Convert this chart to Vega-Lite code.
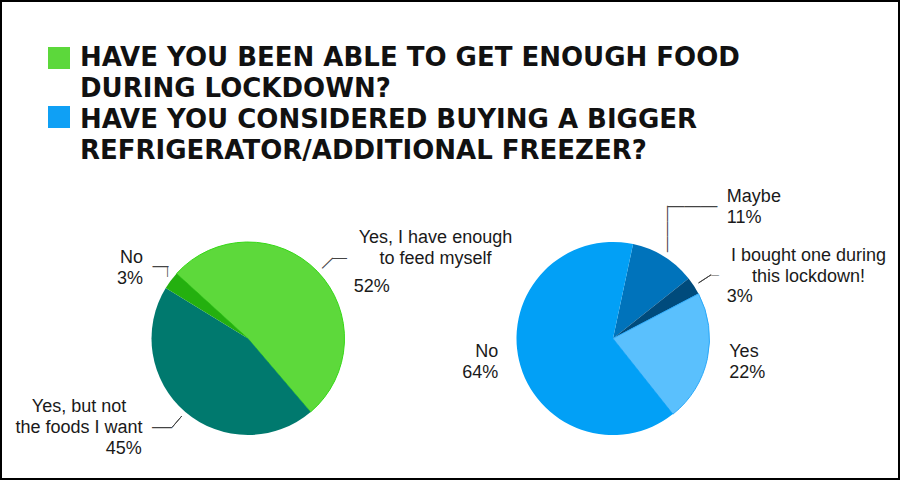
{
  "$schema": "https://vega.github.io/schema/vega-lite/v6.json",
  "width": 900,
  "height": 480,
  "padding": 0,
  "autosize": {"type": "none"},
  "background": "white",
  "config": {"view": {"stroke": "#000000", "strokeWidth": 4, "fill": "white"}},
  "title": {
    "text": ["HAVE YOU BEEN ABLE TO GET ENOUGH FOOD", "DURING LOCKDOWN?", "HAVE YOU CONSIDERED BUYING A BIGGER", "REFRIGERATOR/ADDITIONAL FREEZER?"],
    "orient": "top", "anchor": "start", "frame": "group", "offset": 0,
    "baseline": "alphabetic", "dx": 80, "dy": 185,
    "font": "DejaVu Sans", "fontWeight": "bold", "fontSize": 26, "lineHeight": 31, "color": "#111111", "limit": 2000
  },
  "data": {
    "values": [
      {"question": "HAVE YOU BEEN ABLE TO GET ENOUGH FOOD\nDURING LOCKDOWN?", "answer": "Yes, I have enough to feed myself", "name": "Yes, I have enough\nto feed myself", "pct": "52%", "value": 52, "order": 1},
      {"question": "HAVE YOU BEEN ABLE TO GET ENOUGH FOOD\nDURING LOCKDOWN?", "answer": "Yes, but not the foods I want", "name": "Yes, but not\nthe foods I want", "pct": "45%", "value": 45, "order": 2},
      {"question": "HAVE YOU BEEN ABLE TO GET ENOUGH FOOD\nDURING LOCKDOWN?", "answer": "No", "name": "No", "pct": "3%", "value": 3, "order": 3},
      {"question": "HAVE YOU CONSIDERED BUYING A BIGGER\nREFRIGERATOR/ADDITIONAL FREEZER?", "answer": "Maybe", "name": "Maybe", "pct": "11%", "value": 11, "order": 1},
      {"question": "HAVE YOU CONSIDERED BUYING A BIGGER\nREFRIGERATOR/ADDITIONAL FREEZER?", "answer": "I bought one during this lockdown!", "name": "I bought one during\nthis lockdown!", "pct": "3%", "value": 3, "order": 2},
      {"question": "HAVE YOU CONSIDERED BUYING A BIGGER\nREFRIGERATOR/ADDITIONAL FREEZER?", "answer": "Yes", "name": "Yes", "pct": "22%", "value": 22, "order": 3},
      {"question": "HAVE YOU CONSIDERED BUYING A BIGGER\nREFRIGERATOR/ADDITIONAL FREEZER?", "answer": "No", "name": "No", "pct": "64%", "value": 64, "order": 4}
    ]
  },
  "resolve": {"scale": {"theta": "independent", "fill": "independent"}},
  "layer": [
    {
      "mark": {"type": "square", "opacity": 0},
      "encoding": {
        "fill": {
          "field": "question", "type": "nominal",
          "scale": {"domain": ["HAVE YOU BEEN ABLE TO GET ENOUGH FOOD\nDURING LOCKDOWN?", "HAVE YOU CONSIDERED BUYING A BIGGER\nREFRIGERATOR/ADDITIONAL FREEZER?"], "range": ["#5cd83b", "#0fa0f5"]},
          "legend": {
            "orient": "none", "legendX": 48, "legendY": 47, "title": null, "padding": 0,
            "symbolType": "square", "symbolSize": 484, "symbolOpacity": 1, "symbolStrokeWidth": 0,
            "labelExpr": "''", "labelFontSize": 1, "labelOffset": 0, "rowPadding": 37
          }
        }
      }
    },
    {
      "transform": [{"filter": {"field": "question", "equal": "HAVE YOU BEEN ABLE TO GET ENOUGH FOOD\nDURING LOCKDOWN?"}}],
      "encoding": {
        "x": {"field": "question", "type": "nominal", "axis": null, "scale": {"type": "point", "padding": 0, "domain": ["HAVE YOU BEEN ABLE TO GET ENOUGH FOOD\nDURING LOCKDOWN?", "HAVE YOU CONSIDERED BUYING A BIGGER\nREFRIGERATOR/ADDITIONAL FREEZER?"], "range": [248, 613]}},
        "y": {"field": "question", "type": "nominal", "axis": null, "scale": {"type": "point", "padding": 0, "domain": ["HAVE YOU BEEN ABLE TO GET ENOUGH FOOD\nDURING LOCKDOWN?", "HAVE YOU CONSIDERED BUYING A BIGGER\nREFRIGERATOR/ADDITIONAL FREEZER?"], "range": [338.5, 338.5]}},
        "theta": {"field": "value", "type": "quantitative", "stack": true, "scale": {"domain": [0, 100], "range": [-0.8325, 5.4507]}},
        "order": {"field": "order", "type": "quantitative"},
        "detail": {"field": "answer", "type": "nominal"}
      },
      "layer": [
        {
          "mark": {"type": "arc", "radius": 96.5, "stroke": "#36d916", "strokeWidth": 1},
          "encoding": {
            "fill": {"field": "answer", "type": "nominal", "legend": null, "scale": {"domain": ["Yes, I have enough to feed myself", "Yes, but not the foods I want", "No"], "range": ["#5dd93b", "#00796e", "#24b00f"]}},
            "strokeOpacity": {"condition": {"test": "datum.answer === 'Yes, I have enough to feed myself'", "value": 1}, "value": 0}
          }
        },
        {
          "mark": {"type": "arc", "radius": 117, "radius2": 102, "padAngle": 3.1416, "fillOpacity": 0, "stroke": "#444444", "strokeWidth": 1},
          "encoding": {"strokeOpacity": {"condition": {"test": "datum.answer === 'Yes, but not the foods I want'", "value": 1}, "value": 0}}
        },
        {
          "mark": {"type": "text", "radius": 104, "dx": -4.6, "dy": -3.2, "align": "center", "baseline": "middle", "angle": 90, "font": "Liberation Sans", "fontSize": 11, "fill": "#444444"},
          "encoding": {"text": {"condition": {"test": "datum.answer === 'No'", "value": "\u2014"}, "value": ""}}
        },
        {
          "mark": {"type": "text", "radius": 104, "dx": 3.7, "dy": -10.1, "align": "right", "baseline": "middle", "font": "Liberation Sans", "fontSize": 16, "fill": "#444444"},
          "encoding": {"text": {"condition": {"test": "datum.answer === 'No'", "value": "\u2014"}, "value": ""}}
        },
        {
          "mark": {"type": "text", "radius": 109.5, "align": "center", "baseline": "middle", "angle": -44.1, "font": "Liberation Sans", "fontSize": 15, "fill": "#444444"},
          "encoding": {"text": {"condition": {"test": "datum.answer === 'Yes, I have enough to feed myself'", "value": "\u2014"}, "value": ""}}
        },
        {
          "mark": {"type": "text", "radius": 117, "align": "left", "baseline": "middle", "font": "Liberation Sans", "fontSize": 15, "fill": "#444444"},
          "encoding": {"text": {"condition": {"test": "datum.answer === 'Yes, I have enough to feed myself'", "value": "\u2014"}, "value": ""}}
        },
        {
          "mark": {"type": "text", "radius": 117, "align": "right", "baseline": "middle", "font": "Liberation Sans", "fontSize": 20, "fill": "#444444"},
          "encoding": {"text": {"condition": {"test": "datum.answer === 'Yes, but not the foods I want'", "value": "\u2014"}, "value": ""}}
        },
        {
          "mark": {"type": "text", "radius": 125, "dx": 97.7, "dy": -8.5, "align": "center", "baseline": "alphabetic", "font": "Liberation Sans", "fontSize": 18, "lineHeight": 21, "lineBreak": "\n", "fill": "#1a1a1a"},
          "encoding": {"text": {"condition": {"test": "datum.answer === 'Yes, I have enough to feed myself'", "field": "name", "type": "nominal"}, "value": ""}}
        },
        {
          "mark": {"type": "text", "radius": 125, "dx": 16, "dy": 40.5, "align": "left", "baseline": "alphabetic", "font": "Liberation Sans", "fontSize": 18, "fill": "#1a1a1a"},
          "encoding": {"text": {"condition": {"test": "datum.answer === 'Yes, I have enough to feed myself'", "field": "pct", "type": "nominal"}, "value": ""}}
        },
        {
          "mark": {"type": "text", "radius": 125, "dx": -87.8, "dy": -21.5, "align": "center", "baseline": "alphabetic", "font": "Liberation Sans", "fontSize": 18, "lineHeight": 21, "lineBreak": "\n", "fill": "#1a1a1a"},
          "encoding": {"text": {"condition": {"test": "datum.answer === 'Yes, but not the foods I want'", "field": "name", "type": "nominal"}, "value": ""}}
        },
        {
          "mark": {"type": "text", "radius": 125, "dx": -25, "dy": 20.5, "align": "right", "baseline": "alphabetic", "font": "Liberation Sans", "fontSize": 18, "fill": "#1a1a1a"},
          "encoding": {"text": {"condition": {"test": "datum.answer === 'Yes, but not the foods I want'", "field": "pct", "type": "nominal"}, "value": ""}}
        },
        {
          "mark": {"type": "text", "radius": 125, "dx": -5, "dy": -0.5, "align": "right", "baseline": "alphabetic", "font": "Liberation Sans", "fontSize": 18, "fill": "#1a1a1a"},
          "encoding": {"text": {"condition": {"test": "datum.answer === 'No'", "field": "name", "type": "nominal"}, "value": ""}}
        },
        {
          "mark": {"type": "text", "radius": 125, "dx": -5, "dy": 20.5, "align": "right", "baseline": "alphabetic", "font": "Liberation Sans", "fontSize": 18, "fill": "#1a1a1a"},
          "encoding": {"text": {"condition": {"test": "datum.answer === 'No'", "field": "pct", "type": "nominal"}, "value": ""}}
        }
      ]
    },
    {
      "transform": [{"filter": {"field": "question", "equal": "HAVE YOU CONSIDERED BUYING A BIGGER\nREFRIGERATOR/ADDITIONAL FREEZER?"}}],
      "encoding": {
        "x": {"field": "question", "type": "nominal", "axis": null, "scale": {"type": "point", "padding": 0, "domain": ["HAVE YOU BEEN ABLE TO GET ENOUGH FOOD\nDURING LOCKDOWN?", "HAVE YOU CONSIDERED BUYING A BIGGER\nREFRIGERATOR/ADDITIONAL FREEZER?"], "range": [248, 613]}},
        "y": {"field": "question", "type": "nominal", "axis": null, "scale": {"type": "point", "padding": 0, "domain": ["HAVE YOU BEEN ABLE TO GET ENOUGH FOOD\nDURING LOCKDOWN?", "HAVE YOU CONSIDERED BUYING A BIGGER\nREFRIGERATOR/ADDITIONAL FREEZER?"], "range": [338.5, 338.5]}},
        "theta": {"field": "value", "type": "quantitative", "stack": true, "scale": {"domain": [0, 100], "range": [0.2094, 6.4926]}},
        "order": {"field": "order", "type": "quantitative"},
        "detail": {"field": "answer", "type": "nominal"}
      },
      "layer": [
        {
          "mark": {"type": "arc", "radius": 96.5, "stroke": "#2aa9fa", "strokeWidth": 1},
          "encoding": {
            "fill": {"field": "answer", "type": "nominal", "legend": null, "scale": {"domain": ["Maybe", "I bought one during this lockdown!", "Yes", "No"], "range": ["#0073bb", "#004b7c", "#5ac0fd", "#02a0f6"]}},
            "strokeOpacity": {"condition": {"test": "datum.answer === 'Yes'", "value": 1}, "value": 0}
          }
        },
        {
          "mark": {"type": "arc", "radius": 117, "radius2": 102, "padAngle": 3.1416, "fillOpacity": 0, "stroke": "#444444", "strokeWidth": 1},
          "encoding": {"strokeOpacity": {"condition": {"test": "datum.answer === 'I bought one during this lockdown!'", "value": 1}, "value": 0}}
        },
        {
          "mark": {"type": "text", "radius": 125, "dx": -3.3, "dy": 10.1, "align": "center", "baseline": "middle", "angle": 90, "font": "Liberation Sans", "fontSize": 15.5, "fill": "#444444"},
          "encoding": {"text": {"condition": {"test": "datum.answer === 'Maybe'", "value": "\u2014\u2014\u2014"}, "value": ""}}
        },
        {
          "mark": {"type": "text", "radius": 125, "dx": -11.4, "dy": -26.3, "align": "left", "baseline": "middle", "font": "Liberation Sans", "fontSize": 16.7, "fill": "#444444"},
          "encoding": {"text": {"condition": {"test": "datum.answer === 'Maybe'", "value": "\u2014\u2014\u2014"}, "value": ""}}
        },
        {
          "mark": {"type": "text", "radius": 117, "align": "left", "baseline": "middle", "font": "Liberation Sans", "fontSize": 8, "fill": "#444444"},
          "encoding": {"text": {"condition": {"test": "datum.answer === 'I bought one during this lockdown!'", "value": "\u2014"}, "value": ""}}
        },
        {
          "mark": {"type": "text", "radius": 125, "dx": 48, "dy": -30, "align": "left", "baseline": "alphabetic", "font": "Liberation Sans", "fontSize": 18, "fill": "#1a1a1a"},
          "encoding": {"text": {"condition": {"test": "datum.answer === 'Maybe'", "field": "name", "type": "nominal"}, "value": ""}}
        },
        {
          "mark": {"type": "text", "radius": 125, "dx": 48, "dy": -9, "align": "left", "baseline": "alphabetic", "font": "Liberation Sans", "fontSize": 18, "fill": "#1a1a1a"},
          "encoding": {"text": {"condition": {"test": "datum.answer === 'Maybe'", "field": "pct", "type": "nominal"}, "value": ""}}
        },
        {
          "mark": {"type": "text", "radius": 125, "dx": 90.7, "dy": -9.4, "align": "center", "baseline": "alphabetic", "font": "Liberation Sans", "fontSize": 18, "lineHeight": 21, "lineBreak": "\n", "fill": "#1a1a1a"},
          "encoding": {"text": {"condition": {"test": "datum.answer === 'I bought one during this lockdown!'", "field": "name", "type": "nominal"}, "value": ""}}
        },
        {
          "mark": {"type": "text", "radius": 125, "dx": 9, "dy": 31.6, "align": "left", "baseline": "alphabetic", "font": "Liberation Sans", "fontSize": 18, "fill": "#1a1a1a"},
          "encoding": {"text": {"condition": {"test": "datum.answer === 'I bought one during this lockdown!'", "field": "pct", "type": "nominal"}, "value": ""}}
        },
        {
          "mark": {"type": "text", "radius": 125, "dx": -6, "dy": -7.5, "align": "left", "baseline": "alphabetic", "font": "Liberation Sans", "fontSize": 18, "fill": "#1a1a1a"},
          "encoding": {"text": {"condition": {"test": "datum.answer === 'Yes'", "field": "name", "type": "nominal"}, "value": ""}}
        },
        {
          "mark": {"type": "text", "radius": 125, "dx": -6, "dy": 13.5, "align": "left", "baseline": "alphabetic", "font": "Liberation Sans", "fontSize": 18, "fill": "#1a1a1a"},
          "encoding": {"text": {"condition": {"test": "datum.answer === 'Yes'", "field": "pct", "type": "nominal"}, "value": ""}}
        },
        {
          "mark": {"type": "text", "radius": 125, "dx": 7, "dy": -10, "align": "right", "baseline": "alphabetic", "font": "Liberation Sans", "fontSize": 18, "fill": "#1a1a1a"},
          "encoding": {"text": {"condition": {"test": "datum.answer === 'No'", "field": "name", "type": "nominal"}, "value": ""}}
        },
        {
          "mark": {"type": "text", "radius": 125, "dx": 7, "dy": 11, "align": "right", "baseline": "alphabetic", "font": "Liberation Sans", "fontSize": 18, "fill": "#1a1a1a"},
          "encoding": {"text": {"condition": {"test": "datum.answer === 'No'", "field": "pct", "type": "nominal"}, "value": ""}}
        }
      ]
    }
  ]
}
